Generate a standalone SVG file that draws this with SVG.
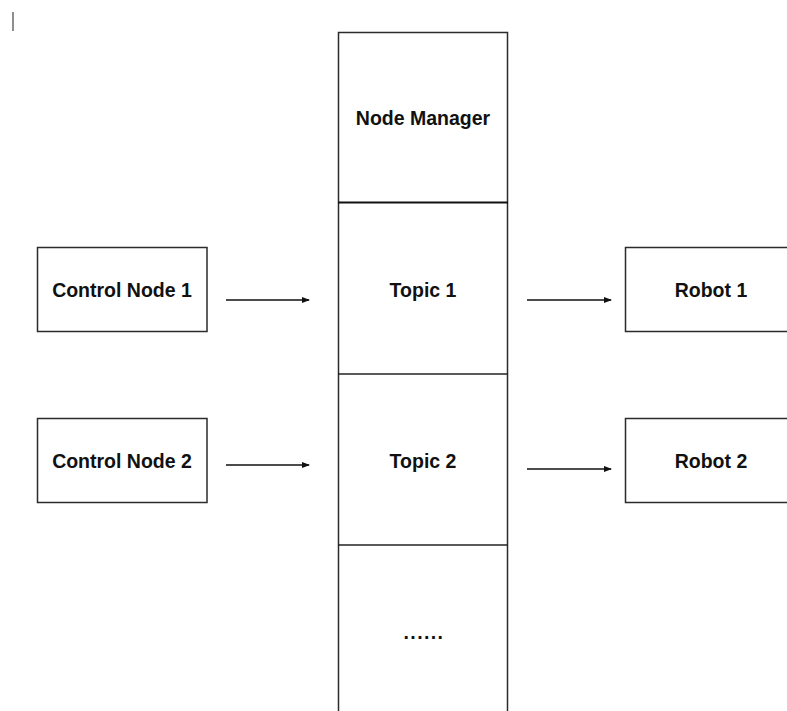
<svg xmlns="http://www.w3.org/2000/svg" width="787" height="711" viewBox="0 0 787 711">
<style>
.box{fill:#fff;stroke:#2b2b2b;stroke-width:1.5}
.lbl{font-family:"Liberation Sans",Arial,sans-serif;font-size:19.5px;font-weight:bold;fill:#111;text-anchor:middle}
.conn{stroke:#111;stroke-width:1.3;fill:none}
</style>
<defs>
<marker id="ah" markerWidth="8" markerHeight="6" refX="7" refY="3" orient="auto" markerUnits="userSpaceOnUse">
<path d="M0,0 L8,3 L0,6 Z" fill="#111"/>
</marker>
</defs>
<rect width="787" height="711" fill="#fff"/>
<line x1="13" y1="12" x2="13" y2="31" stroke="#444" stroke-width="1.2"/>
<g id="column">
<rect class="box" x="338.5" y="32.5" width="169" height="700"/>
<line x1="338" y1="202.5" x2="508" y2="202.5" stroke="#111" stroke-width="2.2"/>
<line x1="338" y1="374" x2="508" y2="374" stroke="#222" stroke-width="1.6"/>
<line x1="338" y1="545" x2="508" y2="545" stroke="#222" stroke-width="1.6"/>
</g>
<g id="node-manager"><text class="lbl" x="423" y="125">Node Manager</text></g>
<g id="topic1"><text class="lbl" x="423" y="297">Topic 1</text></g>
<g id="topic2"><text class="lbl" x="423" y="468">Topic 2</text></g>
<g id="more"><text class="lbl" x="424" y="639" style="letter-spacing:1.4px">......</text></g>
<g id="control1"><rect class="box" x="37.5" y="247.5" width="169.5" height="84"/><text class="lbl" x="122" y="297">Control Node 1</text></g>
<g id="control2"><rect class="box" x="37.5" y="418.5" width="169.5" height="84"/><text class="lbl" x="122" y="468">Control Node 2</text></g>
<g id="robot1"><rect class="box" x="625.5" y="247.5" width="200" height="84"/><text class="lbl" x="711" y="297">Robot 1</text></g>
<g id="robot2"><rect class="box" x="625.5" y="418.5" width="200" height="84"/><text class="lbl" x="711" y="468">Robot 2</text></g>
<g id="connectors">
<line class="conn" x1="226" y1="300" x2="309" y2="300" marker-end="url(#ah)"/>
<line class="conn" x1="226" y1="465" x2="309" y2="465" marker-end="url(#ah)"/>
<line class="conn" x1="527" y1="300" x2="611" y2="300" marker-end="url(#ah)"/>
<line class="conn" x1="527" y1="469" x2="611" y2="469" marker-end="url(#ah)"/>
</g>
</svg>
